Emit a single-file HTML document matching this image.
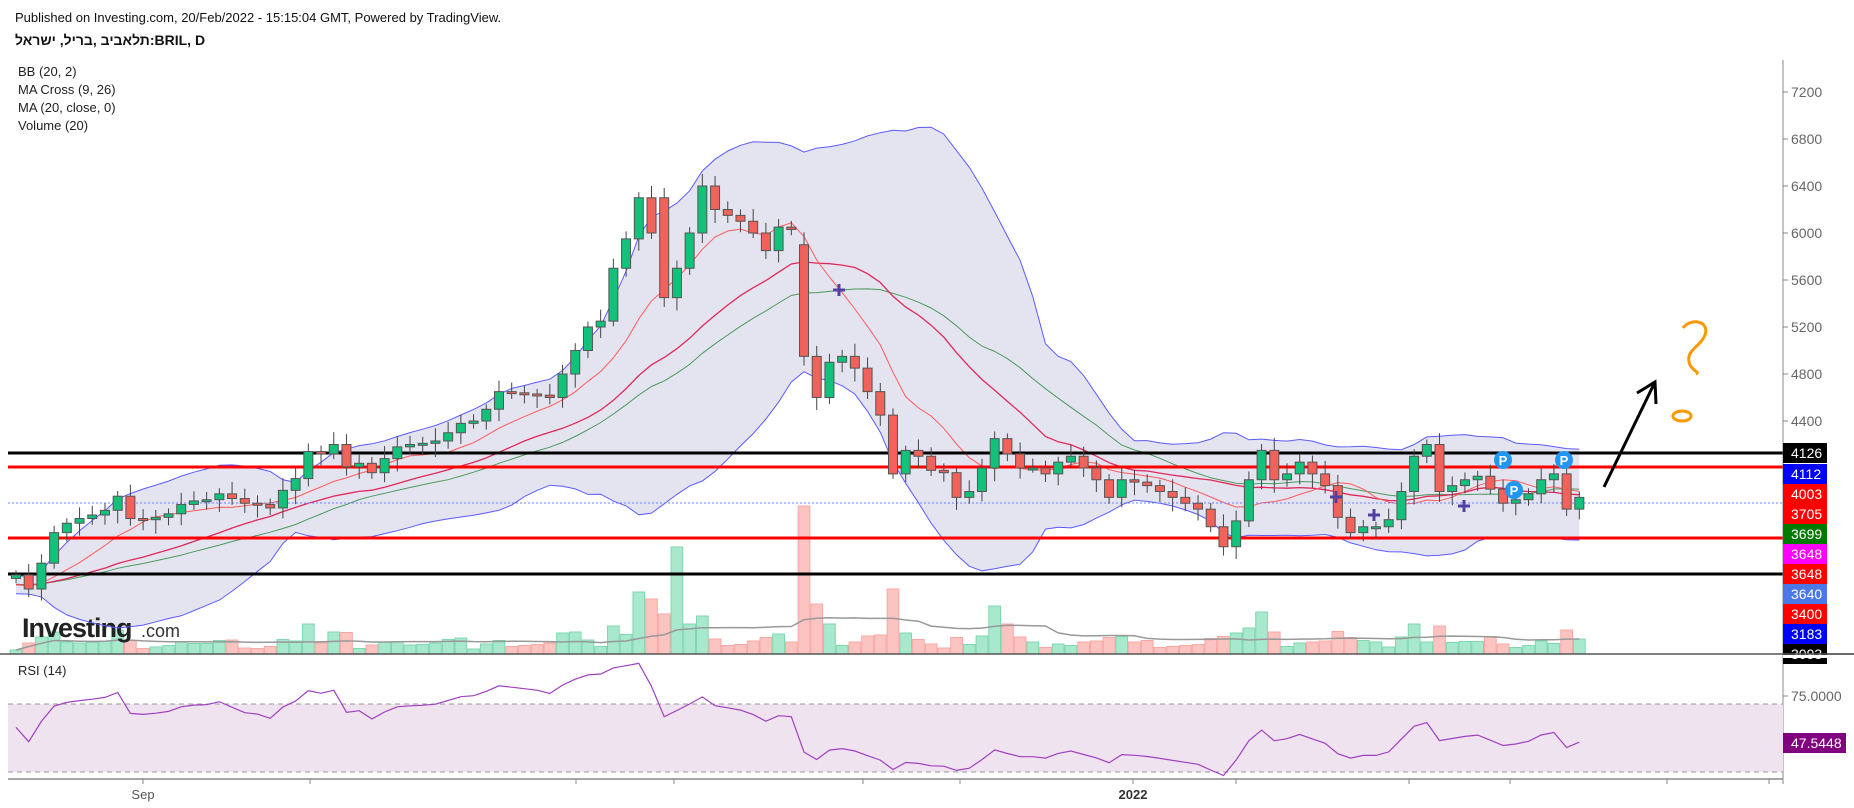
<!DOCTYPE html>
<html><head><meta charset="utf-8"><style>
body{margin:0;background:#fff;width:1854px;height:808px;overflow:hidden;font-family:"Liberation Sans","Noto Sans CJK SC",sans-serif}
svg{position:absolute;left:0;top:0}
</style></head><body>
<svg id="s" width="1854" height="808" xmlns="http://www.w3.org/2000/svg" font-family="Liberation Sans, DejaVu Sans, sans-serif">
<text x="15" y="22" font-size="13" fill="#111">Published on Investing.com, 20/Feb/2022 - 15:15:04 GMT, Powered by TradingView.</text>
<text x="15" y="45" font-size="14" font-weight="bold" fill="#111" font-family="Liberation Sans, DejaVu Sans, sans-serif">תלאביב ,בריל, ישראל:BRIL, D</text>
<text x="18" y="76" font-size="13" fill="#222">BB (20, 2)</text>
<text x="18" y="94" font-size="13" fill="#222">MA Cross (9, 26)</text>
<text x="18" y="112" font-size="13" fill="#222">MA (20, close, 0)</text>
<text x="18" y="130" font-size="13" fill="#222">Volume (20)</text>
<text x="18" y="675" font-size="13" fill="#222">RSI (14)</text>
<g id="g"></g>
</svg>
<script>
var C=[3090,2970,3190,3450,3530,3570,3600,3640,3760,3570,3560,3580,3610,3690,3720,3730,3780,3740,3700,3690,3660,3810,3910,4140,4120,4200,4010,4040,3960,4080,4180,4200,4210,4230,4300,4380,4400,4500,4650,4640,4630,4620,4600,4800,5000,5200,5250,5700,5950,6300,6000,5450,5700,6000,6400,6200,6150,6100,6000,5850,6050,6030,4950,4600,4900,4950,4850,4650,4450,3950,4150,4100,3980,3960,3750,3800,4000,4250,4120,4000,4000,3950,4050,4100,4000,3900,3750,3900,3880,3850,3800,3750,3700,3650,3500,3330,3550,3900,4150,3900,3950,4050,3950,3850,3580,3450,3500,3500,3560,3800,4100,4200,3800,3850,3900,3930,3820,3700,3730,3780,3900,3950,3650,3750];
var N=C.length,sp=12.71,x0=16;
function X(i){return x0+i*sp}
function Y(p){return 374+(4800-p)*0.1175}
var h='';
var full=[];for(var k=0;k<30;k++)full.push(3000+ (k%3)*40 - k*2);full=full.concat(C);var off=30;
function sma(n,i){var s=0;for(var k=0;k<n;k++)s+=full[i+off-k];return s/n}
function sd(n,i){var m=sma(n,i),s=0;for(var k=0;k<n;k++){var d=full[i+off-k]-m;s+=d*d}return Math.sqrt(s/n)}
var up=[],lo=[],m9=[],m26=[],m20=[];
for(var i=0;i<N;i++){var m=sma(20,i),d=sd(20,i);up.push([X(i),Y(m+2*d)]);lo.push([X(i),Y(m-2*d)]);m9.push([X(i),Y(sma(9,i))]);m26.push([X(i),Y(sma(26,i))]);m20.push([X(i),Y(m)]);}
function pl(a){return a.map(function(p){return p[0].toFixed(1)+','+p[1].toFixed(1)}).join(' ')}
h+='<polygon points="'+pl(up)+' '+pl(lo.slice().reverse())+'" fill="#d6d6e8" fill-opacity="0.65"/>';
var V=[];for(var i=0;i<N;i++){var r=Math.abs(C[i]-(i?C[i-1]:C[0]));V.push(4+Math.min(22,r*0.05)+((i*37)%9));}
V[3]=22;V[8]=24;V[23]=30;V[25]=22;V[49]=62;V[50]=55;V[51]=40;V[52]=107;V[53]=30;V[54]=38;V[62]=148;V[63]=50;V[64]=30;V[69]=65;V[77]=48;V[78]=30;V[97]=26;V[98]=42;V[99]=22;V[110]=30;
for(var i=0;i<N;i++){var g=C[i]>=(i?C[i-1]:C[0]);h+='<rect x="'+(X(i)-sp/2+0.5)+'" y="'+(654-V[i])+'" width="'+(sp-1)+'" height="'+V[i]+'" fill="'+(g?'#a8e8cc':'#fcc4c0')+'" stroke="'+(g?'#7ed8b0':'#f8a8a4')+'"/>';}
var vm=[];for(var i=0;i<N;i++){var s=0,c=0;for(var k=Math.max(0,i-19);k<=i;k++){s+=V[k];c++}vm.push([X(i),654-s/c]);}
h+='<polyline points="'+pl(vm)+'" fill="none" stroke="#999" stroke-width="1.5"/>';
h+='<text x="22" y="637" font-size="27" font-weight="bold" fill="#222" letter-spacing="-1">Investing</text><text x="141" y="637" font-size="18" fill="#333">.com</text>';
h+='<polyline points="'+pl(up)+'" fill="none" stroke="#5b5bff" stroke-width="1"/><polyline points="'+pl(lo)+'" fill="none" stroke="#5b5bff" stroke-width="1"/>';
h+='<polyline points="'+pl(m26)+'" fill="none" stroke="#4c9a5c" stroke-width="1"/>';
h+='<polyline points="'+pl(m20)+'" fill="none" stroke="#e0285a" stroke-width="1.3"/>';
h+='<polyline points="'+pl(m9)+'" fill="none" stroke="#ff5a5a" stroke-width="1"/>';
h+='<line x1="8" x2="1783" y1="503" y2="503" stroke="#6a80ff" stroke-dasharray="2,2"/>';
h+='<line x1="8" x2="1783" y1="453" y2="453" stroke="#000" stroke-width="3"/><line x1="8" x2="1783" y1="574" y2="574" stroke="#000" stroke-width="3"/>';
h+='<line x1="8" x2="1783" y1="467" y2="467" stroke="#f00" stroke-width="3"/><line x1="8" x2="1783" y1="538" y2="538" stroke="#f00" stroke-width="3"/>';
for(var i=0;i<N;i++){var o=i?C[i-1]:3060,c=C[i];if(i==62)o=5900;if(i==51)o=6300;if(i==69)o=4450;var g=c>=o;var hi=Math.max(o,c)+40+((i*53)%70),lw=Math.min(o,c)-40-((i*29)%80);
var col=g?'#12c27a':'#f0625a';var x=X(i);var yt=Y(Math.max(o,c)),yb=Y(Math.min(o,c));if(yb-yt<2){yb=yt+2}
h+='<line x1="'+x+'" x2="'+x+'" y1="'+Y(hi)+'" y2="'+Y(lw)+'" stroke="#444" stroke-width="1"/>';
h+='<rect x="'+(x-4.5)+'" y="'+yt+'" width="9" height="'+(yb-yt)+'" fill="'+col+'" stroke="#555" stroke-width="1"/>';}
[[839,290],[1336,497],[1374,515],[1464,506]].forEach(function(p){h+='<path d="M'+(p[0]-6)+' '+p[1]+'h12M'+p[0]+' '+(p[1]-6)+'v12" stroke="#5040a0" stroke-width="3"/>'});
[[1503,460],[1514,490],[1564,460]].forEach(function(p){h+='<circle cx="'+p[0]+'" cy="'+p[1]+'" r="9" fill="#2196f3"/><text x="'+p[0]+'" y="'+(p[1]+5)+'" font-size="13" font-weight="bold" fill="#fff" text-anchor="middle">P</text>'});
h+='<path d="M1604 487 L1655 382 M1637 393 L1655 382 L1656 404" stroke="#000" stroke-width="3" fill="none"/>';
h+='<path d="M1683 328 C1690 318 1710 320 1705 335 C1700 348 1684 350 1690 365 C1694 372 1700 372 1696 374" stroke="#ff9800" stroke-width="3" fill="none"/><ellipse cx="1682" cy="416" rx="9" ry="5" stroke="#ff9800" stroke-width="3" fill="none"/>';
h+='<line x1="1783" x2="1783" y1="60" y2="784" stroke="#888"/><line x1="0" x2="1854" y1="654" y2="654" stroke="#555" stroke-width="1.5"/><line x1="8" x2="1783" y1="779" y2="779" stroke="#888" stroke-width="1.5"/>';
[7200,6800,6400,6000,5600,5200,4800,4400].forEach(function(p){var y=Y(p);h+='<line x1="1783" x2="1788" y1="'+y+'" y2="'+y+'" stroke="#888"/><text x="1791" y="'+(y+5)+'" font-size="14" fill="#666">'+p+'</text>'});
var L=[['4126','#000',453],['4112','#0000ff',474],['4003','#ff0000',494],['3705','#ff0000',514],['3699','#007a00',534],['3648','#ff00ff',554],['3648','#ff0000',574],['3640','#4a78e8',594],['3400','#ff0000',614],['3183','#0000ff',634],['3093','#000',654]];
L.forEach(function(l){h+='<rect x="1783" y="'+(l[2]-10)+'" width="44" height="20" fill="'+l[1]+'"/><text x="1791" y="'+(l[2]+5)+'" font-size="14" fill="#fff">'+l[0]+'</text>'});
h+='<rect x="1783" y="655" width="71" height="3" fill="#fff"/><line x1="1783" x2="1854" y1="654" y2="654" stroke="#555" stroke-width="1.5"/>';
h+='<rect x="8" y="704" width="1775" height="68" fill="#efe3f0"/><line x1="8" x2="1783" y1="704" y2="704" stroke="#999" stroke-dasharray="5,4"/><line x1="8" x2="1783" y1="772" y2="772" stroke="#999" stroke-dasharray="5,4"/>';
var R=[];var ag=0,al=0;for(var i=1;i<full.length;i++){var d=full[i]-full[i-1];var gg=d>0?d:0,ll=d<0?-d:0;if(i<=14){ag+=gg/14;al+=ll/14}else{ag=(ag*13+gg)/14;al=(al*13+ll)/14}if(i-off>=0){var rs=al==0?100:100-100/(1+ag/al);R.push([X(i-off),704+(70-rs)*1.7])}}
h+='<polyline points="'+pl(R)+'" fill="none" stroke="#a040c0" stroke-width="1.2"/>';
h+='<line x1="1783" x2="1788" y1="696" y2="696" stroke="#888"/><text x="1791" y="701" font-size="14" fill="#666">75.0000</text>';
h+='<rect x="1783" y="733" width="63" height="20" fill="#800080"/><text x="1791" y="748" font-size="14" fill="#fff">47.5448</text>';
[143,310,576,674,863,960,1133,1236,1409,1510,1667,1769].forEach(function(x){h+='<line x1="'+x+'" x2="'+x+'" y1="779" y2="784" stroke="#888"/>'});
h+='<text x="143" y="799" font-size="13" fill="#555" text-anchor="middle">Sep</text><text x="1133" y="799" font-size="13" fill="#333" font-weight="bold" text-anchor="middle">2022</text>';
document.getElementById('g').innerHTML=h;
</script>
</body></html>
